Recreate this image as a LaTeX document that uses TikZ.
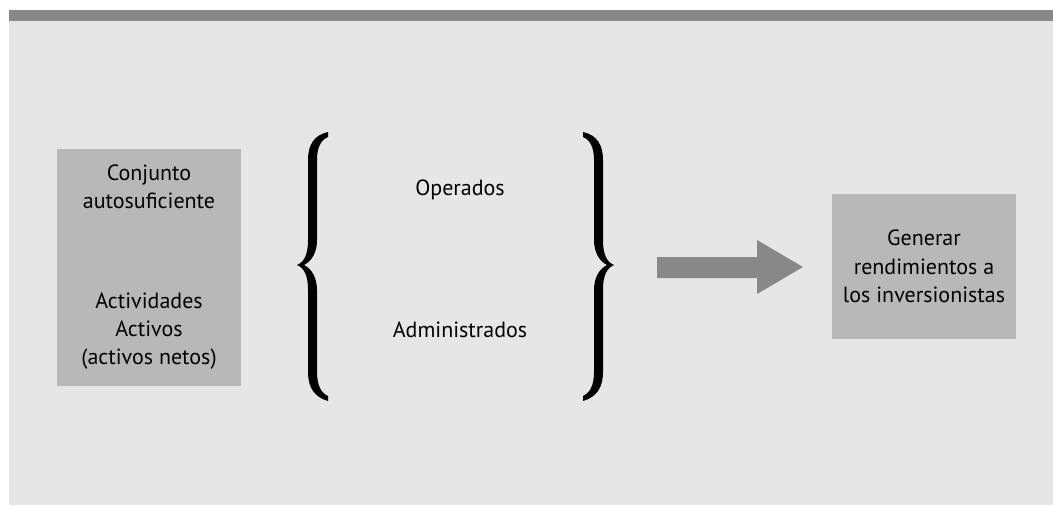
\documentclass[tikz,border=0pt]{standalone}
\usepackage{fontspec}
\setmainfont{PT Sans}
\usepackage{tikz}

\tikzset{
    greybox/.style={fill=boxgrey, inner sep=0pt},
    lbl/.style={align=center, font=\fontsize{11}{14.2}\selectfont},
    curly/.pic={
        \fill[black] (31,-133) .. controls (17,-130) and (11,-120) .. (11,-105) -- (11,-25)
            .. controls (11,-10) and (7,-3) .. (0,0) .. controls (7,3) and (11,10) .. (11,25) -- (11,107)
            .. controls (11,122) and (17,132) .. (31,136) -- (31,131)
            .. controls (24,128) and (20,120) .. (20,107) -- (20,25)
            .. controls (20,13) and (15,4) .. (7,0) .. controls (15,-4) and (20,-13) .. (20,-25) -- (20,-105)
            .. controls (20,-118) and (24,-125) .. (31,-128) -- cycle;
    }
}

\begin{document}
\begin{tikzpicture}[x=0.5pt, y=-0.5pt]
    \definecolor{bggrey}{RGB}{230,230,230}
    \definecolor{bargrey}{RGB}{136,136,136}
    \definecolor{boxgrey}{RGB}{184,184,184}

    \useasboundingbox (0,0) rectangle (1053,505);
    \fill[white] (0,0) rectangle (1053,505);
    \fill[bggrey] (9,10) rectangle (1053,505);
    \fill[bargrey] (9,10) rectangle (1053,20.5);

    \node[greybox, minimum width=92pt, minimum height=118.5pt] (conjunto) at (149,267.5) {};
    \node[lbl] (auto) at (149,187) {Conjunto\\autosuficiente};
    \node[lbl] (activ) at (149,331) {Actividades\\Activos\\(activos netos)};

    \pic at (297,265) {curly};
    \pic[xscale=-1] at (614,265) {curly};

    \node[lbl] (operados) at (460,190) {Operados};
    \node[lbl] (admin) at (460,330) {Administrados};

    \fill[bargrey] (657,257) -- (757,257) -- (757,240) -- (803,267) -- (757,294) -- (757,278) -- (657,278) -- cycle;

    \node[greybox, lbl, minimum width=92pt, minimum height=72.5pt] (generar) at (924,266.5) {Generar\\rendimientos a\\los inversionistas};
\end{tikzpicture}
\end{document}
